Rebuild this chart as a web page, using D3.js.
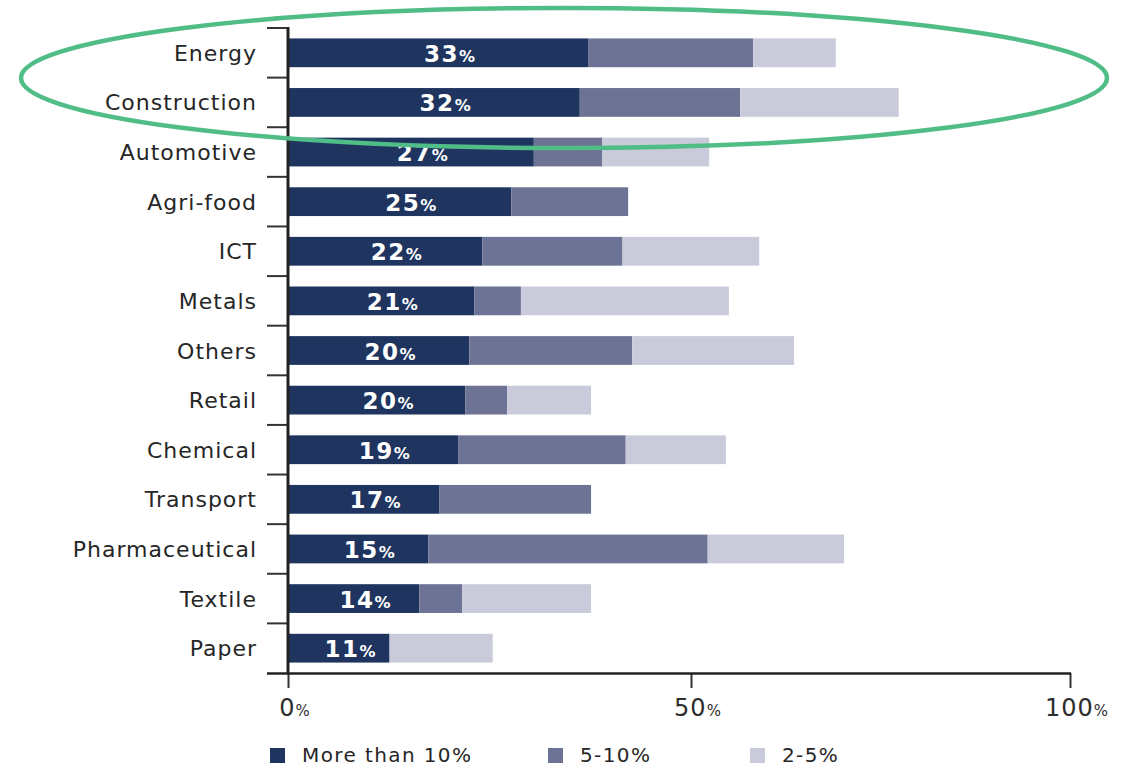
<!DOCTYPE html>
<html>
<head>
<meta charset="utf-8">
<script src="https://cdn.jsdelivr.net/npm/d3@7"></script>
<style>
    body { margin: 0; background: #fff; }
    svg text { font-family: "DejaVu Sans", sans-serif; }
</style>
</head>
<body>
<div id="chart"></div>
<script>
// categories, top to bottom
var categories = ["Energy", "Construction", "Automotive", "Agri-food", "ICT", "Metals", "Others",
    "Retail", "Chemical", "Transport", "Pharmaceutical", "Textile", "Paper"];
// printed labels on the dark bars
var labelValues = [33, 32, 27, 25, 22, 21, 20, 20, 19, 17, 15, 14, 11];
// segment lengths as drawn
var over10 = [37.3, 36.2, 30.5, 27.7, 24.1, 23.1, 22.5, 22.0, 21.1, 18.8, 17.4, 16.3, 12.6];
var from5to10 = [20.9, 20.3, 8.5, 14.5, 17.4, 5.8, 20.2, 5.2, 20.8, 18.8, 34.8, 5.3, 0];
var from2to5 = [10.9, 20.9, 13.4, 0, 17.5, 26.1, 20.9, 10.4, 12.7, 0, 18.0, 16.0, 12.8];
var seriesNames = ["More than 10%", "5-10%", "2-5%"];
var xTicks = [0, 50, 100];

function create_chart(div_id){
    var width = 1128, height = 766;
    var colors = ["#1f3560", "#6d7394", "#c9cbdb"];

    var rows = categories.map(function(c, i){
        return {cat: c, label: labelValues[i], s0: over10[i], s1: from5to10[i], s2: from2to5[i]};
    });
    var stack = d3.stack().keys(["s0", "s1", "s2"])(rows);

    // the original axis is not quite linear: 50% sits right of the midpoint
    var xScale = d3.scaleLinear()
        .domain([0, 50, 100])
        .range([288, 691, 1070]);
    var yScale = d3.scaleBand()
        .domain(categories)
        .range([28, 673])
        .paddingInner(0.42)
        .paddingOuter(0.21);

    var svg = d3.select(div_id).append("svg")
        .attr("width", width)
        .attr("height", height);

    // bars
    svg.append("g").selectAll("g")
        .data(stack)
        .enter().append("g")
        .attr("fill", function(d, i){ return colors[i]; })
        .selectAll("rect")
        .data(function(d){ return d; })
        .enter().append("rect")
        .attr("x", function(d){ return xScale(d[0]); })
        .attr("y", function(d){ return yScale(d.data.cat); })
        .attr("width", function(d){ return xScale(d[1]) - xScale(d[0]); })
        .attr("height", yScale.bandwidth());

    // labels on dark bars
    var lab = svg.append("g").selectAll("text")
        .data(rows)
        .enter().append("text")
        .attr("x", function(d){ return xScale(d.s0 / 2) + 12; })
        .attr("y", function(d){ return yScale(d.cat) + yScale.bandwidth() / 2 + 9; })
        .attr("text-anchor", "middle")
        .attr("fill", "#fff")
        .attr("font-weight", "bold")
        .style("letter-spacing", "1.5px");
    lab.append("tspan").attr("font-size", "23px").text(function(d){ return d.label; });
    lab.append("tspan").attr("font-size", "16px").text("%");

    // category labels
    svg.append("g").selectAll("text")
        .data(categories)
        .enter().append("text")
        .attr("x", 257)
        .attr("y", function(d){ return yScale(d) + yScale.bandwidth() / 2 + 8; })
        .attr("text-anchor", "end")
        .attr("font-size", "22px")
        .attr("fill", "#262626")
        .style("letter-spacing", "1px")
        .text(function(d){ return d; });

    // y axis line and ticks between bands
    var gap = (yScale.step() - yScale.bandwidth()) / 2;
    svg.append("g").selectAll("line")
        .data(categories)
        .enter().append("line")
        .attr("x1", 267).attr("x2", 288)
        .attr("y1", function(d){ return yScale(d) - gap; })
        .attr("y2", function(d){ return yScale(d) - gap; })
        .attr("stroke", "#333").attr("stroke-width", 2);
    svg.append("line")
        .attr("x1", 288).attr("x2", 288)
        .attr("y1", 27).attr("y2", 674)
        .attr("stroke", "#222").attr("stroke-width", 3);

    // x axis
    var xAxis = svg.append("g")
        .attr("transform", "translate(0,673)")
        .call(d3.axisBottom(xScale).tickValues(xTicks).tickSize(15).tickSizeOuter(0).tickFormat(""));
    xAxis.select(".domain").remove();
    xAxis.selectAll(".tick line").attr("stroke", "#333").attr("stroke-width", 2);
    svg.append("line")
        .attr("x1", 267).attr("x2", 1071)
        .attr("y1", 673.5).attr("y2", 673.5)
        .attr("stroke", "#222").attr("stroke-width", 2.5);

    var tl = svg.append("g").selectAll("text")
        .data(xTicks)
        .enter().append("text")
        .attr("x", function(d){ return xScale(d) + 7; })
        .attr("y", 716)
        .attr("text-anchor", "middle")
        .attr("fill", "#2e2e2e")
        .style("letter-spacing", "1px");
    tl.append("tspan").attr("font-size", "24px").text(function(d){ return d; });
    tl.append("tspan").attr("font-size", "15px").text("%");

    // legend
    var legendX = [270, 548, 750];
    var lg = svg.append("g").selectAll("g")
        .data(seriesNames)
        .enter().append("g")
        .attr("transform", function(d, i){ return "translate(" + legendX[i] + ",748)"; });
    lg.append("rect")
        .attr("width", 15).attr("height", 15)
        .attr("fill", function(d, i){ return colors[i]; });
    lg.append("text")
        .attr("x", 32).attr("y", 14)
        .attr("font-size", "20px")
        .attr("fill", "#262626")
        .style("letter-spacing", "1.4px")
        .text(function(d){ return d; });

    // highlight ellipse round the top two rows
    svg.append("ellipse")
        .attr("cx", 564).attr("cy", 78)
        .attr("rx", 543).attr("ry", 70)
        .attr("fill", "none")
        .attr("stroke", "#50bd87")
        .attr("stroke-width", 4.5);
}

create_chart("#chart");
</script>
</body>
</html>
